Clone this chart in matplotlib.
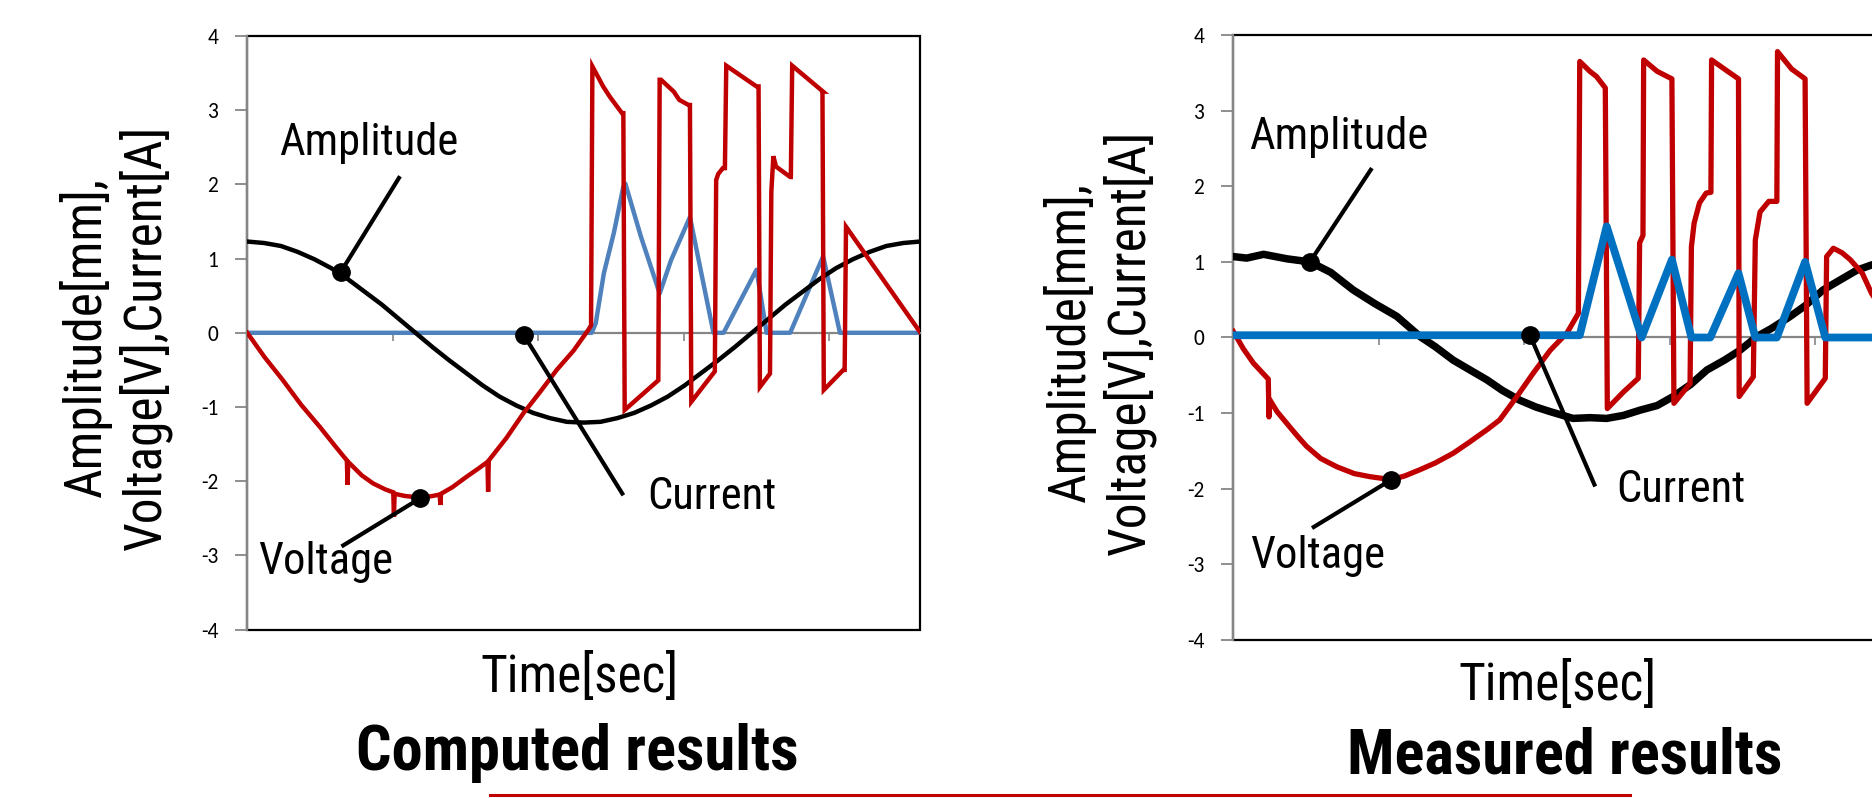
import numpy as np
import matplotlib
matplotlib.use('Agg')
import matplotlib.pyplot as plt
from matplotlib.patches import Rectangle
from matplotlib.lines import Line2D
from matplotlib import font_manager

# fonts : a narrow sans for the slide text, Carlito (calibri metrics) for the excel ticks
names = set(f.name for f in font_manager.fontManager.ttflist)
narrow = 'DejaVu Sans'
for cand in ['Roboto Condensed', 'Pragati Narrow', 'PT Sans Narrow', 'Liberation Sans']:
    if cand in names:
        narrow = cand
        break
plt.rcParams['font.family'] = [narrow, 'DejaVu Sans']
tick_font = 'Carlito' if 'Carlito' in names else narrow

# ---------------- computed results (left) ----------------
comp_amp_t = [0, 2.5, 5, 7.5, 10, 12.5, 15, 17.5, 20, 22.5, 25, 27.5, 30, 32.5, 35, 37.5,
              40, 42.5, 45, 47.5, 50, 52.5, 55, 57.5, 60, 62.5, 65, 67.5, 70, 72.5, 75,
              77.5, 80, 82.5, 85, 87.5, 90, 92.5, 95, 97.5, 100]
comp_amp = [1.23, 1.21, 1.17, 1.09, 0.99, 0.87, 0.72, 0.55, 0.38, 0.19, 0.0, -0.19, -0.37,
            -0.54, -0.71, -0.86, -0.98, -1.08, -1.15, -1.20, -1.21, -1.20, -1.15, -1.08,
            -0.98, -0.86, -0.71, -0.54, -0.37, -0.19, 0.0, 0.19, 0.38, 0.55, 0.72, 0.87,
            0.99, 1.09, 1.17, 1.21, 1.23]

comp_volt_t = [0, 2.5, 5.3, 8, 10.8, 13, 14.8, 14.9, 15.0, 17, 18.7, 20.5, 21.7, 21.8, 21.9,
               23.5, 25.7, 27.5, 28.6, 28.7, 28.8, 30.5, 32.6, 34.5, 35.7, 35.8, 35.9, 38.5,
               41, 43.5, 46, 48.5, 50.7, 51.1,
               51.3, 52.9, 53.9, 55.7, 55.9, 56.1, 61.1, 61.3, 61.5, 63.4, 64.2, 65.6, 65.8,
               66.0, 69.5, 69.7, 70.0, 70.7, 71.0, 71.2, 75.7, 76.0, 76.2, 77.7, 77.8, 77.9,
               78.2, 78.6, 80.7, 80.8, 81.0, 85.6, 85.5, 85.7, 88.6, 88.8, 89.0, 100]
comp_volt = [0.0, -0.32, -0.64, -0.97, -1.27, -1.52, -1.72, -2.05, -1.74, -1.92, -2.03, -2.11,
             -2.15, -2.48, -2.17, -2.20, -2.22, -2.20, -2.18, -2.32, -2.17, -2.08, -1.94,
             -1.82, -1.74, -2.14, -1.72, -1.42, -1.09, -0.80, -0.50, -0.24, 0.04, 0.10,
             3.59, 3.32, 3.18, 2.96, 2.96, -1.04, -0.64, 3.41, 3.41, 3.25, 3.14, 3.07, 3.07,
             -0.93, -0.52, 2.06, 2.14, 2.22, 2.22, 3.60, 3.32, 3.32, -0.73, -0.55, 0.70,
             1.90, 2.38, 2.24, 2.10, 2.10, 3.60, 3.25, 3.25, -0.77, -0.50, -0.50, 1.43, 0.01]

comp_cur_t = [0, 51.2, 51.8, 53.0, 54.5, 55.9, 56.2, 58.5, 61.3, 63.0, 65.8, 67.5, 69.3, 70.8,
              75.7, 77.2, 80.7, 85.6, 88.1, 100]
comp_cur = [0.0, 0.0, 0.13, 0.80, 1.35, 1.97, 2.01, 1.30, 0.53, 0.98, 1.56, 0.80, 0.0, 0.0,
            0.85, 0.0, 0.0, 1.03, 0.0, 0.0]

# ---------------- measured results (right) ----------------
meas_amp_t = [0, 2, 4.5, 8, 11.4, 14.5, 17.8, 21, 24.3, 27.8, 30, 32.7, 35, 37.7, 40, 42.6,
              45, 47.1, 50.5, 53, 55.5, 58, 60.5, 63, 65.4, 68, 70.4, 73, 75.3, 77.8, 80,
              82.8, 85, 87.7, 90, 92.7, 94.9, 97]
meas_amp = [1.07, 1.05, 1.10, 1.04, 1.00, 0.86, 0.63, 0.45, 0.28, 0.01, -0.12, -0.30, -0.42,
            -0.56, -0.70, -0.83, -0.92, -0.98, -1.07, -1.06, -1.07, -1.03, -0.96, -0.90,
            -0.78, -0.62, -0.43, -0.30, -0.17, 0.01, 0.12, 0.28, 0.42, 0.63, 0.75, 0.89,
            0.96, 1.00]

meas_volt_t = [0, 1.5, 3.0, 5.2, 5.3, 5.4, 6.5, 7.9, 9.5, 10.9, 13, 15.4, 18, 20.3, 23.5,
               25.5, 27.7, 30, 32.7, 35, 37.7, 39.6, 42, 44.6, 47.1, 49.6, 51.3,
               51.5, 53, 54, 55.3, 55.6, 58, 60.2, 60.4, 60.9, 61.0, 63, 65.2, 65.5, 67.9,
               68.1, 68.5, 69.3, 70.3, 71.0, 71.1, 73, 75.1, 75.2, 77.3, 77.6, 78.3, 79.6,
               80.8, 80.9, 83, 85.0, 85.3, 88.0, 88.2, 89.2, 90.5, 91.7, 93.5, 94.9, 97]
meas_volt = [0.08, -0.15, -0.34, -0.55, -1.05, -0.82, -0.98, -1.13, -1.30, -1.44, -1.60,
             -1.71, -1.80, -1.84, -1.88, -1.83, -1.75, -1.66, -1.53, -1.39, -1.22, -1.09,
             -0.80, -0.47, -0.17, 0.06, 0.32,
             3.65, 3.52, 3.45, 3.30, -0.94, -0.72, -0.54, 1.25, 1.35, 3.67, 3.52, 3.42,
             -0.87, -0.61, 1.20, 1.51, 1.78, 1.91, 1.92, 3.67, 3.55, 3.42, -0.78, -0.52,
             1.29, 1.66, 1.80, 1.80, 3.78, 3.55, 3.42, -0.87, -0.54, 1.07, 1.18, 1.12, 1.03,
             0.85, 0.58, 0.30]

meas_cur_t = [0, 51.5, 55.5, 60.7, 65.2, 68.1, 70.9, 75.1, 77.6, 80.8, 85.0, 88.0, 100]
meas_cur = [0.03, 0.03, 1.47, 0.0, 1.03, 0.0, 0.0, 0.85, 0.0, 0.0, 1.00, 0.0, 0.0]

x_ticks = [21.63, 43.26, 64.89, 86.52]
y_ticks = [-4, -3, -2, -1, 0, 1, 2, 3, 4]

gray = '#868686'
red = '#C00000'

fig = plt.figure(figsize=(18.72, 7.98), dpi=100)
W, H = 1872.0, 798.0


def px(x, y):
    # pixel (from top left) -> figure fraction
    return x / W, 1 - y / H


def setup(ax):
    ax.set_xlim(0, 100)
    ax.set_ylim(-4, 4)
    ax.set_yticks(y_ticks)
    ax.set_yticklabels([str(v) for v in y_ticks], fontfamily=tick_font, fontsize=15.5)
    ax.tick_params(axis='y', length=9, width=1.3, color=gray, pad=12)
    # excel style category axis sitting on zero
    ax.spines['bottom'].set_position(('data', 0))
    ax.spines['bottom'].set_color(gray)
    ax.spines['bottom'].set_linewidth(1.6)
    ax.set_xticks(x_ticks)
    ax.set_xticklabels([])
    ax.tick_params(axis='x', direction='out', length=6, width=1.2, color=gray)
    ax.spines['top'].set_visible(False)
    ax.spines['right'].set_visible(False)
    ax.spines['left'].set_color(gray)
    ax.spines['left'].set_linewidth(1.6)
    ax.add_patch(Rectangle((0, 0), 1, 1, transform=ax.transAxes, fill=False,
                           edgecolor='black', linewidth=1.6, zorder=0.5, clip_on=False))


def callout(ax, text, tx, ty, x0, y0, x1, y1):
    ax.text(tx, ty, text, ha='center', va='center', fontsize=32, zorder=6)
    ax.plot([x0, x1], [y0, y1], color='black', lw=3.0, zorder=6, solid_capstyle='butt')
    ax.plot([x1], [y1], 'o', color='black', ms=12.5, zorder=7)


# left : computed
ax1 = fig.add_axes([247.3 / W, 1 - 629.6 / H, 672.7 / W, 593.6 / H])
setup(ax1)
ax1.plot(comp_cur_t, comp_cur, color='#4F81BD', lw=3.2, zorder=3)
ax1.plot(comp_amp_t, comp_amp, color='black', lw=3.2, zorder=4)
ax1.plot(comp_volt_t, comp_volt, color=red, lw=3.2, zorder=5, solid_joinstyle='miter')
callout(ax1, 'Amplitude', 18.1, 2.56, 22.7, 2.11, 13.9, 0.82)
callout(ax1, 'Voltage', 11.6, -3.09, 14.0, -2.88, 25.7, -2.23)
callout(ax1, 'Current', 69.0, -2.21, 55.9, -2.19, 41.1, -0.03)

# right : measured (cut off by the slide edge)
ax2 = fig.add_axes([1233.3 / W, 1 - 640.0 / H, 672.7 / W, 605.0 / H])
setup(ax2)
ax2.plot(meas_amp_t, meas_amp, color='black', lw=5.4, zorder=3)
ax2.plot(meas_volt_t, meas_volt, color=red, lw=3.8, zorder=4)
ax2.plot(meas_cur_t, meas_cur, color='#0070C0', lw=5.6, zorder=5)
callout(ax2, 'Amplitude', 15.7, 2.65, 20.6, 2.24, 11.4, 1.0)
callout(ax2, 'Voltage', 12.6, -2.89, 11.7, -2.52, 23.5, -1.88)
callout(ax2, 'Current', 66.6, -2.02, 53.8, -1.97, 44.1, 0.03)

ylab = 'Amplitude[mm],\nVoltage[V],Current[A]'
fig.text(*px(115.5, 337), ylab, rotation=90, ha='center', va='center', fontsize=37,
         multialignment='center', linespacing=1.15)
fig.text(*px(1099.5, 342), ylab, rotation=90, ha='center', va='center', fontsize=37,
         multialignment='center', linespacing=1.15)

fig.text(*px(580, 692), 'Time[sec]', ha='center', va='baseline', fontsize=37)
fig.text(*px(1557, 700), 'Time[sec]', ha='center', va='baseline', fontsize=37)
fig.text(*px(577, 770), 'Computed results', ha='center', va='baseline', fontsize=45,
         fontweight='bold')
fig.text(*px(1565, 773), 'Measured results', ha='center', va='baseline', fontsize=45,
         fontweight='bold')

# thin red rule at the bottom of the slide
fig.add_artist(Line2D([490 / W, 1630 / W], [1 - 795 / H, 1 - 795 / H], color=red, lw=2.2))

fig.savefig('out.png', dpi=100)
